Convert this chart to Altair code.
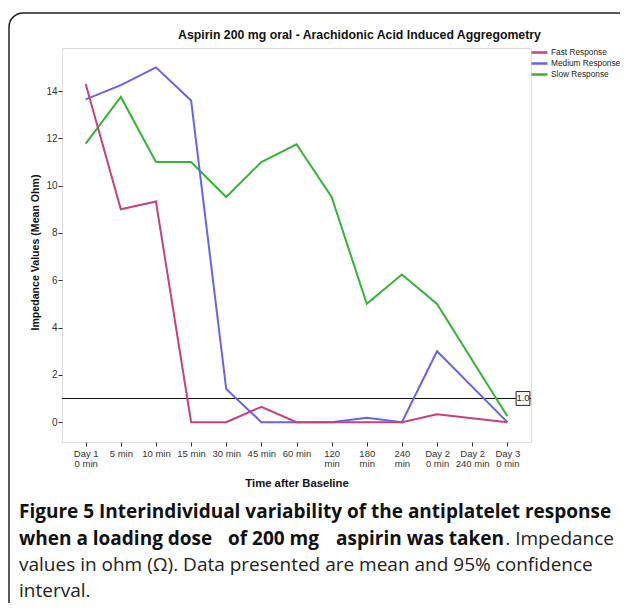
import altair as alt
import pandas as pd

# ---- data ----
categories = ["Day 1|0 min", "5 min", "10 min", "15 min", "30 min", "45 min", "60 min",
              "120|min", "180|min", "240|min", "Day 2|0 min", "Day 2|240 min", "Day 3|0 min"]
series_names = ["Fast Response", "Medium Response", "Slow Response"]
series_colors = ["#c8407c", "#6464f0", "#35b535"]
fast = [14.3, 9.0, 9.33, 0.0, 0.0, 0.65, 0.0, 0.0, 0.0, 0.0, 0.33, None, 0.0]
medium = [13.65, 14.25, 15.0, 13.6, 1.4, 0.0, 0.0, 0.0, 0.18, 0.0, 3.0, None, 0.0]
slow = [11.78, 13.75, 11.0, 11.0, 9.52, 11.0, 11.75, 9.52, 5.0, 6.24, 5.0, None, 0.25]
y_ticks = [0, 2, 4, 6, 8, 10, 12, 14]
ref_value = [1.0]

title_text = "Aspirin 200 mg oral - Arachidonic Acid Induced Aggregometry"
cap1 = "Figure 5 Interindividual variability of the antiplatelet response"
cap2_bold_a = "when a loading dose"
cap2_bold_b = "of 200 mg"
cap2_bold_c = "aspirin was taken"
cap2_norm = ". Impedance"
cap3 = "values in ohm (\u03a9). Data presented are mean and 95% confidence"
cap4 = "interval."

rows = []
for name, vals in zip(series_names, [fast, medium, slow]):
    for c, v in zip(categories, vals):
        if v is not None:
            rows.append({"time": c, "series": name, "value": v})
df = pd.DataFrame(rows)

W, H = 469, 394
FONT = "Liberation Sans"

xscale = alt.Scale(domain=categories, type="point", padding=0.674)
yscale = alt.Scale(domain=[-0.84, 15.82], nice=False, zero=False)
cscale = alt.Scale(domain=series_names, range=series_colors)

xaxis = alt.Axis(title="Time after Baseline", labelAngle=0, labelExpr="split(datum.value, '|')",
                 labelFontSize=9.5, labelLineHeight=10.5, labelColor="#333", labelFont=FONT,
                 tickSize=4, labelPadding=2, tickColor="#333", domain=False, grid=False,
                 titleFont=FONT, titleFontSize=11.3, titleFontWeight="bold", titleColor="#111",
                 titleBaseline="middle", titleY=41.5)
yaxis = alt.Axis(title="Impedance Values (Mean Ohm)", values=y_ticks, labelFontSize=10,
                 labelColor="#333", labelFont=FONT, tickSize=4, labelPadding=1, tickColor="#333",
                 domain=False, grid=False, titleFont=FONT, titleFontSize=10.6,
                 titleFontWeight="bold", titleColor="#111", titleBaseline="middle",
                 titleX=-27, titleY=H / 2 + 7, titleAngle=270, titleAlign="center")

legend = alt.Legend(title=None, orient="none", legendX=468, legendY=-1, symbolType="stroke",
                    symbolSize=256, symbolStrokeWidth=2.5, labelFontSize=8.3, labelFont=FONT,
                    labelColor="#222", rowPadding=0, clipHeight=11, labelOffset=2, padding=0)


def series_layer(name, show_legend):
    return alt.Chart(df).transform_filter(alt.datum.series == name).mark_line(
        strokeWidth=2).encode(
        x=alt.X("time:N", scale=xscale, axis=xaxis, sort=categories),
        y=alt.Y("value:Q", scale=yscale, axis=yaxis),
        color=alt.Color("series:N", scale=cscale, legend=legend if show_legend else None),
    )


ref_df = pd.DataFrame({"v": ref_value})
ref_rule = alt.Chart(ref_df).mark_rule(color="#111", strokeWidth=1).encode(y=alt.Y("v:Q"))
ref_box = alt.Chart(ref_df).mark_point(shape="square", filled=True, fill="white", stroke="#222",
                                       strokeWidth=1, size=190, opacity=1).encode(
    x=alt.value(461), y=alt.Y("v:Q"))
ref_text = alt.Chart(ref_df).mark_text(font=FONT, fontSize=9.5, color="#222").encode(
    x=alt.value(461), y=alt.Y("v:Q"), text=alt.Text("v:Q", format=".1f"))


def txt(s, x, y, size, weight="normal", align="left", font="Open Sans", color="#222"):
    return alt.Chart(pd.DataFrame({"t": [s]})).mark_text(
        font=font, fontSize=size, fontWeight=weight, align=align, baseline="middle",
        color=color).encode(text="t:N", x=alt.value(x), y=alt.value(y))


border = alt.Chart(pd.DataFrame({"a": [0]})).mark_rect(
    fillOpacity=0, stroke="#222", strokeWidth=1.5, cornerRadius=14).encode(
    x=alt.value(-53), x2=alt.value(600), y=alt.value(-35), y2=alt.value(600))

CAP = 19
chart = alt.layer(
    border,
    ref_rule,
    series_layer("Slow Response", True),
    series_layer("Medium Response", False),
    series_layer("Fast Response", False),
    ref_box,
    ref_text,
    txt(title_text, 297.5, -13.5, 12.3, "bold", "center", FONT, "#111"),
    txt(cap1, -43, 464.3, CAP, "bold", color="#111"),
    txt(cap2_bold_a, -43, 490.8, CAP, "bold", color="#111"),
    txt(cap2_bold_b, 257, 490.8, CAP, "bold", "right", color="#111"),
    txt(cap2_bold_c, 442, 490.8, CAP, "bold", "right", color="#111"),
    txt(cap2_norm, 552, 490.8, CAP, "normal", "right"),
    txt(cap3, -43, 517.3, CAP),
    txt(cap4, -43, 543.3, CAP),
).resolve_scale(y="shared", x="shared").properties(
    width=W, height=H,
    autosize=alt.AutoSizeParams(type="none"),
    padding={"left": 54, "top": 40, "right": 89, "bottom": 161},
).configure_view(stroke="#444", strokeWidth=1).configure(background="white")

chart.save("out.html", embed_options={"renderer": "svg", "actions": False})
